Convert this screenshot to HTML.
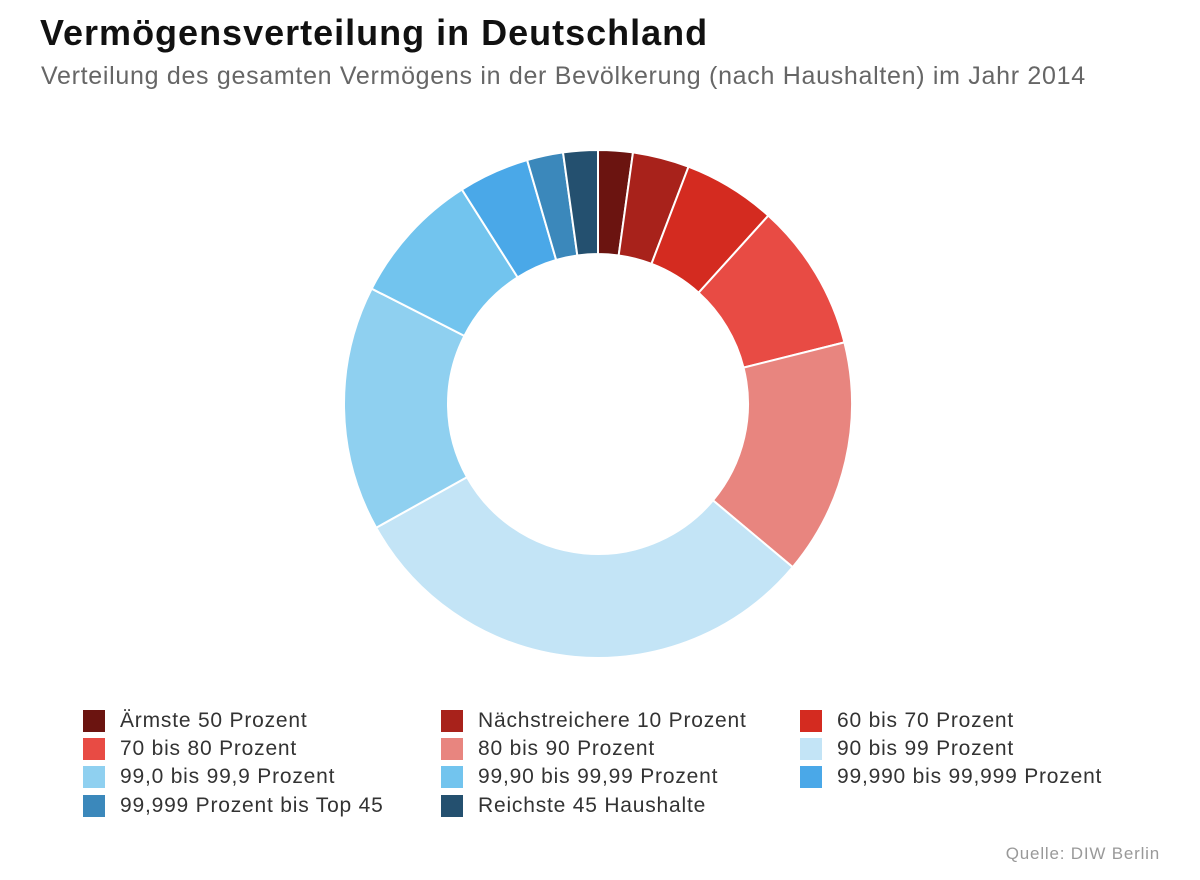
<!DOCTYPE html>
<html><head><meta charset="utf-8"><style>
body{margin:0;width:1200px;height:880px;background:#fff;font-family:"Liberation Sans",sans-serif;position:relative;overflow:hidden}
#title{position:absolute;left:40px;top:12px;font-size:36px;font-weight:bold;color:#111;letter-spacing:1px}
#sub{position:absolute;left:41px;top:62px;font-size:25px;color:#666;letter-spacing:0.7px}
#src{position:absolute;right:40px;top:844px;font-size:17px;color:#999;letter-spacing:0.8px}
.leg{position:absolute;font-size:21px;color:#333;height:24px;line-height:24px;padding-left:37px;letter-spacing:0.8px;white-space:nowrap}
.leg i{position:absolute;left:0;top:1px;width:22px;height:22px}
</style></head><body>
<div id="title">Vermögensverteilung in Deutschland</div>
<div id="sub">Verteilung des gesamten Vermögens in der Bevölkerung (nach Haushalten) im Jahr 2014</div>
<svg id="chart" width="1200" height="880" style="position:absolute;left:0;top:0"></svg>
<div id="legend"></div>
<div id="src">Quelle: DIW Berlin</div>
<script>
const categories=["Ärmste 50 Prozent","Nächstreichere 10 Prozent","60 bis 70 Prozent","70 bis 80 Prozent","80 bis 90 Prozent","90 bis 99 Prozent","99,0 bis 99,9 Prozent","99,90 bis 99,99 Prozent","99,990 bis 99,999 Prozent","99,999 Prozent bis Top 45","Reichste 45 Haushalte"];
const values=[2.2,3.6,5.9,9.4,15.0,30.8,15.6,8.5,4.5,2.3,2.2];
const colors=["#6b1410","#a8221b","#d42b20","#e84b44","#e8857f","#c3e4f6","#8fd0f0","#72c4ee","#4aa8e8","#3b88bb","#24506f"];
const cx=598,cy=404,R=254,r=150;
const svg=document.getElementById('chart');
const total=values.reduce((a,b)=>a+b,0);
function pt(a,rad){return [cx+rad*Math.sin(a),cy-rad*Math.cos(a)];}
let acc=0;
values.forEach((v,i)=>{
  const a0=acc/total*2*Math.PI;acc+=v;const a1=acc/total*2*Math.PI;
  const large=(a1-a0)>Math.PI?1:0;
  const p0=pt(a0,R),p1=pt(a1,R),q1=pt(a1,r),q0=pt(a0,r);
  const p=document.createElementNS('http://www.w3.org/2000/svg','path');
  p.setAttribute('d',`M${p0[0]},${p0[1]}A${R},${R} 0 ${large} 1 ${p1[0]},${p1[1]}L${q1[0]},${q1[1]}A${r},${r} 0 ${large} 0 ${q0[0]},${q0[1]}Z`);
  p.setAttribute('fill',colors[i]);p.setAttribute('stroke','#fff');p.setAttribute('stroke-width','2');
  
  
  svg.appendChild(p);
});
const lg=document.getElementById('legend');
const lx=[83,441,800],ly=[709,737,765,794];
categories.forEach((c,i)=>{
  const d=document.createElement('div');d.className='leg';
  d.style.left=lx[i%3]+'px';d.style.top=ly[Math.floor(i/3)]+'px';
  d.innerHTML='<i style="background:'+colors[i]+'"></i>'+c;
  
  
  lg.appendChild(d);
});
</script>
</body></html>
